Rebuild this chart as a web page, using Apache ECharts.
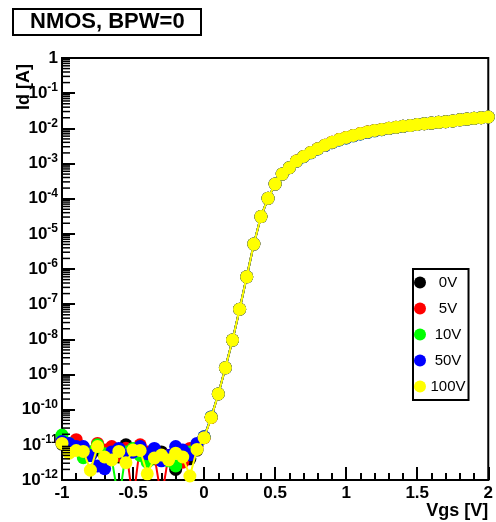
<!DOCTYPE html>
<html>
<head>
<meta charset="utf-8">
<script src="https://cdn.jsdelivr.net/npm/echarts@6/dist/echarts.min.js"></script>
<style>
  html, body { margin: 0; padding: 0; background: #fff; }
  #chart { width: 496px; height: 522px; }
</style>
</head>
<body>
<div id="chart"></div>
<script>
// Vgs sweep points [V]
const vgs = [
  -1, -0.95, -0.9, -0.85, -0.8, -0.75, -0.7, -0.65, -0.6, -0.55,
  -0.5, -0.45, -0.4, -0.35, -0.3, -0.25, -0.2, -0.15, -0.1, -0.05,
  0, 0.05, 0.1, 0.15, 0.2, 0.25, 0.3, 0.35, 0.4, 0.45,
  0.5, 0.55, 0.6, 0.65, 0.7, 0.75, 0.8, 0.85, 0.9, 0.95,
  1, 1.05, 1.1, 1.15, 1.2, 1.25, 1.3, 1.35, 1.4, 1.45,
  1.5, 1.55, 1.6, 1.65, 1.7, 1.75, 1.8, 1.85, 1.9, 1.95, 2
]

// subthreshold noise, Vgs = -1 ... -0.05 [A]
const off0V = [
  1.05e-11, 8.9e-12, 7.9e-12, 6.3e-12, 5.0e-12, 7.1e-12, 5.0e-12, 5.6e-12, 4.5e-12, 1.0e-11,
  6.3e-12, 7.9e-12, 5.6e-12, 4.0e-12, 6.3e-12, 5.0e-12, 2.0e-12, 5.0e-12, 4.0e-12, 7.1e-12
]
const off5V = [
  1.25e-11, 1.0e-11, 1.4e-11, 7.9e-12, 6.3e-12, 1.1e-11, 7.1e-12, 8.9e-12, 5.0e-12, 8.0e-12,
  2.5e-13, 1.0e-11, 6.3e-12, 5.0e-12, 3.0e-13, 5.0e-12, 6.3e-12, 3.2e-12, 7.9e-12, 9.0e-12
]
const off10V = [
  1.9e-11, 1.1e-11, 7.9e-12, 4.3e-12, 6.3e-12, 1.0e-11, 5.6e-12, 4.0e-12, 2.5e-13, 6.3e-12,
  7.9e-12, 5.0e-12, 3.2e-12, 6.3e-12, 4.5e-12, 3.5e-12, 2.5e-12, 5.0e-12, 6.3e-12, 1.0e-11
]
const off50V = [
  1.25e-11, 1.1e-11, 8.9e-12, 8.9e-12, 5.0e-12, 2.5e-12, 2.1e-12, 6.3e-12, 7.9e-12, 5.0e-12,
  6.3e-12, 8.9e-12, 5.6e-12, 7.9e-12, 3.5e-12, 5.0e-12, 8.9e-12, 7.1e-12, 5.2e-12, 1.1e-11
]
const off100V = [
  1.1e-11, 5.8e-12, 6.9e-12, 6.5e-12, 1.9e-12, 8.9e-12, 4.5e-12, 3.7e-12, 6.5e-12, 3.1e-12,
  7.1e-12, 6.9e-12, 1.5e-12, 4.2e-12, 5.1e-12, 3.7e-12, 5.8e-12, 4.5e-12, 1.3e-12, 7.4e-12
]

// turn-on and saturation, Vgs = 0 ... 2 [A]
const onUpper = [
  1.6e-11, 6.0e-11, 2.8e-10, 1.55e-9, 9.5e-9, 7.2e-8, 6.0e-7, 5.1e-6, 3.1e-5, 1.02e-4,
  2.6e-4, 5.0e-4, 7.6e-4, 1.17e-3, 1.58e-3, 2.04e-3, 2.63e-3, 3.3e-3, 4.0e-3, 4.8e-3,
  5.5e-3, 6.3e-3, 7.1e-3, 7.9e-3, 8.7e-3, 9.3e-3, 1.0e-2, 1.07e-2, 1.15e-2, 1.2e-2,
  1.29e-2, 1.35e-2, 1.41e-2, 1.48e-2, 1.55e-2, 1.62e-2, 1.75e-2, 1.83e-2, 1.92e-2, 2.0e-2, 2.1e-2
]
const onLower = [
  1.7e-11, 6.2e-11, 2.8e-10, 1.55e-9, 9.5e-9, 7.2e-8, 6.0e-7, 5.1e-6, 3.1e-5, 1.02e-4,
  2.6e-4, 5.0e-4, 7.6e-4, 1.16e-3, 1.56e-3, 2.01e-3, 2.59e-3, 3.24e-3, 3.92e-3, 4.68e-3,
  5.35e-3, 6.12e-3, 6.9e-3, 7.7e-3, 8.5e-3, 9.1e-3, 9.85e-3, 1.06e-2, 1.14e-2, 1.2e-2,
  1.29e-2, 1.35e-2, 1.41e-2, 1.48e-2, 1.55e-2, 1.62e-2, 1.75e-2, 1.83e-2, 1.92e-2, 2.0e-2, 2.1e-2
]

const seriesNames = ['0V', '5V', '10V', '50V', '100V']
const seriesColors = ['#000000', '#ff0000', '#00ff00', '#0000ff', '#ffff00']
const seriesValues = [
  off0V.concat(onUpper),
  off5V.concat(onUpper),
  off10V.concat(onLower),
  off50V.concat(onLower),
  off100V.concat(onUpper)
]

// y axis decades and log minor tick positions (2..9 x 10^n)
const decades = [-12, -11, -10, -9, -8, -7, -6, -5, -4, -3, -2, -1]
const minorMultipliers = [2, 3, 4, 5, 6, 7, 8, 9]

const FONT = 'Liberation Sans, Arial, sans-serif'

const chart = echarts.init(document.getElementById('chart'))

const minorTicks = []
decades.forEach(d => {
  minorMultipliers.forEach(m => {
    minorTicks.push([-1, m * Math.pow(10, d)])
  })
})

const dataSeries = seriesNames.map((name, i) => {
  return {
    name: name,
    type: 'line',
    data: vgs.map((x, j) => [x, seriesValues[i][j]]),
    symbol: 'circle',
    symbolSize: 13,
    showSymbol: true,
    clip: true,
    lineStyle: { color: seriesColors[i], width: 2 },
    itemStyle: { color: seriesColors[i] },
    emphasis: { disabled: true },
    z: 3 + i
  }
})

const option = {
  animation: false,
  backgroundColor: '#fff',
  title: {
    text: 'NMOS, BPW=0',
    left: 13,
    top: 9,
    padding: [2, 17, 2, 17],
    borderColor: '#000',
    borderWidth: 2,
    textStyle: { fontSize: 22, fontWeight: 'bold', color: '#000', fontFamily: FONT }
  },
  legend: {
    data: seriesNames,
    orient: 'vertical',
    left: 413,
    top: 269,
    padding: [6, 3, 6, 1],
    borderColor: '#000',
    borderWidth: 2,
    backgroundColor: '#fff',
    icon: 'circle',
    itemWidth: 12,
    itemHeight: 12,
    itemGap: 11,
    formatter: '{a|{name}}',
    textStyle: {
      color: '#000',
      fontSize: 15,
      fontFamily: FONT,
      rich: {
        a: { width: 34, align: 'center', fontSize: 15, color: '#000', fontFamily: FONT }
      }
    }
  },
  grid: {
    left: 62,
    top: 58,
    right: 4,
    bottom: 42,
    show: true,
    borderColor: '#000',
    borderWidth: 2
  },
  xAxis: {
    type: 'value',
    min: -1,
    max: 2,
    interval: 0.5,
    name: 'Vgs [V]',
    nameLocation: 'end',
    nameGap: 0,
    nameTextStyle: {
      align: 'right',
      verticalAlign: 'top',
      padding: [22, 0, 0, 0],
      fontSize: 18,
      fontWeight: 'bold',
      color: '#000',
      fontFamily: FONT
    },
    axisLine: { onZero: false, lineStyle: { color: '#000', width: 2 } },
    axisTick: { inside: true, length: 13, lineStyle: { color: '#000', width: 2 } },
    minorTick: { show: true, splitNumber: 5, length: 7, lineStyle: { color: '#000', width: 2 } },
    splitLine: { show: false },
    axisLabel: {
      margin: 5,
      fontSize: 17,
      fontWeight: 'bold',
      color: '#000',
      fontFamily: FONT,
      showMinLabel: true,
      showMaxLabel: true
    }
  },
  yAxis: {
    type: 'log',
    logBase: 10,
    min: 1e-12,
    max: 1,
    interval: 1,
    axisLine: { onZero: false, lineStyle: { color: '#000', width: 2 } },
    axisTick: { inside: true, length: 13, lineStyle: { color: '#000', width: 2 } },
    splitLine: { show: false },
    axisLabel: {
      margin: 4,
      color: '#000',
      formatter: v => {
        const e = Math.round(Math.log10(v))
        if (e === 0) return '{b|1}'
        return '{b|10}{s|' + e + '}'
      },
      rich: {
        b: { fontSize: 17, fontWeight: 'bold', color: '#000', fontFamily: FONT },
        s: { fontSize: 12, fontWeight: 'bold', color: '#000', fontFamily: FONT, padding: [0, 0, 10, 0] }
      }
    }
  },
  graphic: [
    {
      type: 'text',
      x: 24,
      y: 110,
      rotation: Math.PI / 2,
      style: {
        text: 'Id [A]',
        font: 'bold 18px ' + FONT,
        fill: '#000',
        textAlign: 'left',
        textVerticalAlign: 'middle'
      },
      z: 10
    }
  ],
  series: [
    {
      name: 'minorTicks',
      type: 'custom',
      silent: true,
      clip: false,
      data: minorTicks,
      renderItem: (params, api) => {
        const p = api.coord([api.value(0), api.value(1)])
        return {
          type: 'line',
          shape: { x1: p[0], y1: p[1], x2: p[0] + 8, y2: p[1] },
          style: { stroke: '#000', lineWidth: 1.5 }
        }
      },
      z: 10
    }
  ].concat(dataSeries)
}

chart.setOption(option)
</script>
</body>
</html>
